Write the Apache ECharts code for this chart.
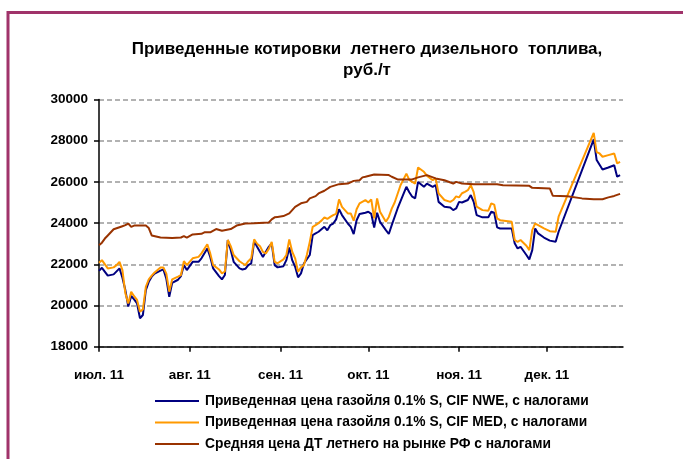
<!DOCTYPE html>
<html>
<head>
<meta charset="utf-8">
<script src="https://cdn.jsdelivr.net/npm/echarts@6/dist/echarts.min.js"></script>
<style>
html,body{margin:0;padding:0;background:#fff;}
#chart{width:683px;height:459px;}
</style>
</head>
<body>
<div id="chart"></div>
<script>
// Day offsets are days since 1 July 2011
var startDate = [2011, 6, 1];
var monthLabels = ['янв.','фев.','мар.','апр.','май','июн.','июл.','авг.','сен.','окт.','ноя.','дек.'];
var yTicks = [18000, 20000, 22000, 24000, 26000, 28000, 30000];
var seriesNames = [
  'Приведенная цена газойля 0.1% S, CIF NWE, с налогами',
  'Приведенная цена газойля 0.1% S, CIF MED, с налогами',
  'Средняя цена ДТ летнего на рынке РФ с налогами'
];

var nweDays = [0,1,3,5,7,8,9,10,11,12,13,14,15,16,17,18,19,21,22,23,24,25,27,28,29,30,32,34,35,37,38,39,41,42,43,44,45,46,48,49,50,51,52,53,54,56,57,58,59,60,61,63,64,65,66,67,68,69,70,71,72,73,74,75,76,77,78,79,80,81,82,83,85,86,87,88,89,91,92,93,94,95,96,98,99,100,102,105,106,107,108,109,111,112,114,115,116,118,120,121,122,123,124,126,127,128,129,131,133,134,135,136,137,141,142,143,144,146,147,148,149,150,152,154,156,157,169,170,172,174,176,177,178];
var nweValues = [21680,21830,21450,21510,21800,21350,20750,19950,20460,20300,20100,19380,19540,20750,21150,21400,21550,21690,21750,21300,20420,21100,21250,21430,21960,21720,22120,22120,22290,22770,22360,21800,21430,21270,21480,23180,22690,22120,21800,21750,21780,21960,22040,23130,22850,22360,22610,22850,23020,21960,21850,21910,22200,22820,22200,21880,21370,21560,22040,22250,22450,23420,23500,23580,23700,23820,23650,23900,23980,24180,24670,24390,23980,23820,23470,24140,24440,24500,24550,24450,23780,24500,24060,23660,23470,23900,24710,25760,25500,25280,25200,26000,25760,25920,25760,25850,25030,24790,24760,24630,24710,25030,25000,25120,25360,25030,24390,24280,24280,24550,24500,23790,23740,23740,23020,22770,22850,22450,22240,22690,23740,23500,23300,23150,23090,23580,28060,27060,26600,26700,26810,26250,26330];

var medDays = [0,1,3,5,6,7,8,9,10,11,12,13,14,15,16,17,18,19,21,22,23,24,25,27,28,29,30,32,34,35,37,38,39,41,42,43,44,45,46,48,49,50,51,52,53,54,55,56,57,58,59,60,61,63,64,65,66,67,68,69,70,71,72,73,74,75,76,77,78,79,80,81,82,83,85,86,87,88,89,91,92,93,94,95,96,98,99,100,101,103,105,106,107,108,109,111,112,114,115,116,118,120,121,122,123,124,125,126,127,128,129,131,133,134,135,136,137,141,142,143,144,146,147,148,149,150,152,154,156,157,169,170,171,172,174,176,177,178];
var medValues = [22070,22200,21800,21850,21960,22120,21720,20590,20100,20670,20450,20270,19700,19810,20910,21270,21450,21600,21850,21850,21550,20670,21270,21400,21480,22150,21960,22290,22360,22530,22970,22530,21960,21750,21560,21650,23180,22880,22450,22150,22050,21960,22150,22290,23210,23000,22880,22600,22530,22750,23090,22120,22050,22240,22450,23210,22610,22290,21640,21850,21960,22450,23090,23820,23900,24000,24120,24280,24200,24300,24390,24450,25150,24790,24470,24470,24120,24670,24960,25120,25000,25150,24230,25200,24550,24060,24300,24700,25000,25840,26400,26100,26000,25920,26700,26490,26300,26080,26170,25440,25120,25030,25120,25300,25250,25450,25520,25600,25840,25500,24800,24630,24600,24960,24900,24230,24140,24060,23180,23090,23180,22900,22690,23660,23980,23900,23740,23610,23580,24310,28380,27450,27380,27220,27300,27380,26900,26970];

var rusDays = [0,1,2,3,5,8,9,10,11,12,16,17,18,21,25,28,29,30,32,35,36,38,40,42,45,47,50,53,58,59,60,61,63,65,67,69,71,72,74,75,77,79,82,85,87,89,90,91,94,99,100,102,107,109,112,115,118,121,122,124,128,136,138,147,148,154,155,160,165,169,172,174,176,178];
var rusValues = [22920,23050,23250,23400,23700,23850,23900,23980,23820,23880,23880,23760,23400,23300,23280,23300,23370,23290,23450,23480,23550,23550,23710,23630,23710,23880,23980,23990,24030,24180,24280,24300,24340,24470,24790,24960,25030,25200,25310,25440,25570,25760,25890,25920,26050,26080,26220,26250,26360,26330,26250,26120,26120,26220,26330,26170,26080,25920,26000,25920,25890,25890,25840,25810,25710,25680,25330,25300,25200,25160,25160,25250,25320,25420];

function toPairs(days, values) {
  return days.map(function (d, i) {
    return [new Date(startDate[0], startDate[1], startDate[2] + d).getTime(), values[i]];
  });
}

var FONT = '"Liberation Sans", Arial, sans-serif';
var LEG_ICON = 'path://M0,0 L44,0 L44,2 L0,2 Z';
var chart = echarts.init(document.getElementById('chart'), null, {renderer: 'canvas'});
chart.setOption({
  animation: false,
  backgroundColor: '#ffffff',
  graphic: [{
    type: 'rect',
    shape: {x: 8, y: 12.5, width: 720, height: 500},
    style: {fill: 'none', stroke: '#A0336A', lineWidth: 3},
    silent: true
  }],
  title: {
    text: 'Приведенные котировки  летнего дизельного  топлива,\nруб./т',
    left: 362,
    top: 34,
    textAlign: 'center',
    textStyle: {fontFamily: FONT, fontSize: 17, fontWeight: 'bold', color: '#000', lineHeight: 21}
  },
  legend: {
    orient: 'vertical',
    left: 150,
    top: 389,
    itemWidth: 44,
    itemHeight: 2,
    itemGap: 7.5,
    icon: LEG_ICON,
    data: seriesNames,
    textStyle: {fontFamily: FONT, fontSize: 13.8, fontWeight: 'bold', color: '#000', lineHeight: 14, height: 14, padding: [0,0,0,1]}
  },
  grid: {left: 99, right: 60, top: 99.5, bottom: 112.3},
  xAxis: {
    type: 'time',
    min: new Date(2011, 6, 1).getTime(),
    max: new Date(2011, 11, 27).getTime(),
    splitNumber: 6,
    minInterval: 28 * 86400000,
    axisLine: {lineStyle: {color: '#000', width: 1.5}},
    axisTick: {show: true, length: 5, lineStyle: {color: '#000', width: 1.5}},
    splitLine: {show: false},
    axisLabel: {
      margin: 22,
      fontFamily: FONT, fontSize: 13.5, fontWeight: 'bold', color: '#000',
      hideOverlap: false,
      formatter: function (v) {
        var d = new Date(v);
        return monthLabels[d.getMonth()] + ' ' + String(d.getFullYear()).slice(2);
      }
    }
  },
  yAxis: {
    type: 'value',
    min: yTicks[0],
    max: yTicks[yTicks.length - 1],
    interval: yTicks[1] - yTicks[0],
    axisLine: {show: true, lineStyle: {color: '#000', width: 1.5}},
    axisTick: {show: true, length: 5, lineStyle: {color: '#000', width: 1.5}},
    axisLabel: {margin: 11, fontFamily: FONT, fontSize: 13.5, fontWeight: 'bold', color: '#000',
      formatter: function (v) { return String(v); }},
    splitLine: {show: true, lineStyle: {color: '#999999', width: 1.5, type: [5, 3]}}
  },
  series: [
    {name: seriesNames[0], type: 'line', symbol: 'none', showSymbol: false, data: toPairs(nweDays, nweValues),
     lineStyle: {color: '#000080', width: 2}, itemStyle: {color: '#000080'}},
    {name: seriesNames[1], type: 'line', symbol: 'none', showSymbol: false, data: toPairs(medDays, medValues),
     lineStyle: {color: '#FF9900', width: 2}, itemStyle: {color: '#FF9900'}},
    {name: seriesNames[2], type: 'line', symbol: 'none', showSymbol: false, data: toPairs(rusDays, rusValues),
     lineStyle: {color: '#993300', width: 2}, itemStyle: {color: '#993300'}}
  ]
});
</script>
</body>
</html>
